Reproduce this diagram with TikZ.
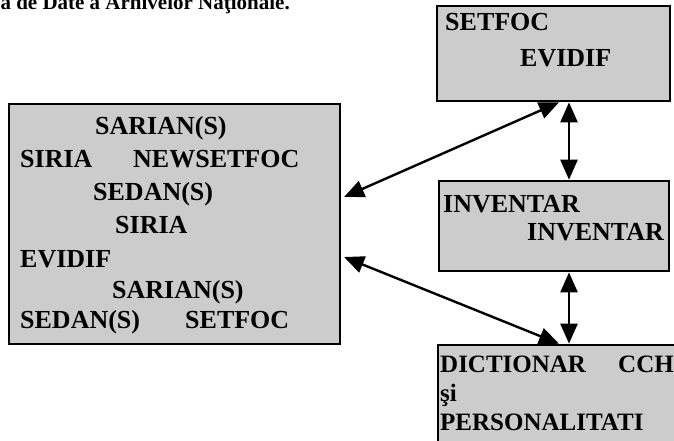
\documentclass[tikz,border=0pt]{standalone}
\usepackage{fontspec}
\setmainfont{Liberation Serif}
\usetikzlibrary{arrows.meta,positioning}

\tikzset{
  panel/.style={draw,line width=2.6pt,fill=black!20,inner sep=0pt},
  word/.style={anchor=base west,inner sep=0pt,font=\fontsize{26}{30}\selectfont\bfseries},
  link/.style={line width=2.4pt,{Triangle[length=20pt,width=17pt]}-{Triangle[length=20pt,width=17pt]}}
}

\begin{document}
\begin{tikzpicture}[x=1pt,y=-1pt]
	\useasboundingbox (0,0) rectangle (674,440);
	% caption cut at the top of the page
	\node[word,anchor=base east,font=\fontsize{21}{25}\selectfont\bfseries] (cap) at (290,9) {Baza de Date a Arhivelor Naţionale.};
	\begin{scope}[every node/.style={panel}]
		\node[minimum width=331pt,minimum height=240pt] (baza) at (174.5,224) {};
		\node[minimum width=233pt,minimum height=95pt] (setfoc) at (553.5,53.5) {};
		\node[minimum width=230pt,minimum height=90pt] (inv) at (554,226) {};
		\node[minimum width=252pt,minimum height=125pt] (dict) at (564,407.5) {};
	\end{scope}
	\begin{scope}[every node/.style={word}]
		\node (b1) at (95,134) {SARIAN(S)};
		\node (b2) at (20,167) {SIRIA};
		\node (b3) at (133,167) {NEWSETFOC};
		\node (b4) at (93,200) {SEDAN(S)};
		\node (b5) at (115,233) {SIRIA};
		\node (b6) at (20,267) {EVIDIF};
		\node (b7) at (112,298) {SARIAN(S)};
		\node (b8) at (20,328) {SEDAN(S)};
		\node (b9) at (185,328) {SETFOC};
		\node (s1) at (445,30) {SETFOC};
		\node (s2) at (520,66) {EVIDIF};
		\node (i1) at (443,212) {INVENTAR};
		\node (i2) at (527,240) {INVENTAR};
	\end{scope}
	\begin{scope}[every node/.style={word,font=\fontsize{25}{29}\selectfont\bfseries}]
		\node (d1) at (440,372) {DICTIONAR};
		\node (d2) at (618,372) {CCH};
		\node (d3) at (440,401) {şi};
		\node (d4) at (440,430) {PERSONALITATI};
	\end{scope}
	\coordinate (ax) at (569,0);
	\coordinate (tx) at (559,0);
	\coordinate (la) at (344,197);
	\coordinate (lb) at (344,257);
	\begin{scope}[every path/.style={link}]
		\path (setfoc.south -| ax) edge (inv.north -| ax);
		\path (inv.south -| ax) edge (dict.north -| ax);
		\path (la) edge (setfoc.south -| tx);
		\path (lb) edge (dict.north -| tx);
	\end{scope}
\end{tikzpicture}
\end{document}
